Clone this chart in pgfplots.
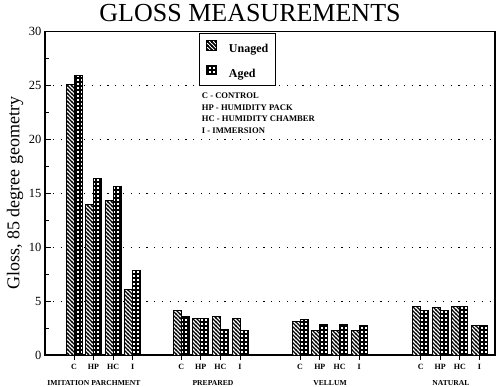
\documentclass[border=0pt]{standalone}
\usepackage{fontspec}
\setmainfont{Liberation Serif}
\usepackage{pgfplots}
\usepackage{pgfplotstable}
\pgfplotsset{compat=1.18}
\usetikzlibrary{patterns}

\pgfdeclarepatternformonly{unagedhatch}{\pgfqpoint{-1pt}{-1pt}}{\pgfqpoint{5pt}{5pt}}{\pgfqpoint{4pt}{4pt}}{%
  \pgfsetlinewidth{1.4pt}%
  \pgfpathmoveto{\pgfqpoint{-0.5pt}{4.5pt}}%
  \pgfpathlineto{\pgfqpoint{4.5pt}{-0.5pt}}%
  \pgfusepath{stroke}}
\pgfdeclarepatternformonly{agedcross}{\pgfqpoint{-1pt}{-1pt}}{\pgfqpoint{5pt}{5pt}}{\pgfqpoint{4pt}{4pt}}{%
  \pgfsetlinewidth{1.7pt}%
  \pgfpathmoveto{\pgfqpoint{-1pt}{0pt}}%
  \pgfpathlineto{\pgfqpoint{5pt}{0pt}}%
  \pgfpathmoveto{\pgfqpoint{0pt}{-1pt}}%
  \pgfpathlineto{\pgfqpoint{0pt}{5pt}}%
  \pgfusepath{stroke}}

% x positions (axis units), values
\pgfplotstableread{
x y
29 25.1
48.5 14.0
68.2 14.35
87.7 6.1
136.3 4.1
155.6 3.36
175.3 3.6
195 3.36
255 3.12
274.8 2.3
294.6 2.3
314.3 2.25
375.7 4.54
395.2 4.42
414.8 4.54
434.3 2.75
}\unaged
\pgfplotstableread{
x y
29 25.9
48.5 16.4
68.2 15.65
87.7 7.8
136.3 3.6
155.6 3.36
175.3 2.38
195 2.25
255 3.3
274.8 2.8
294.6 2.8
314.3 2.7
375.7 4.1
395.2 4.1
414.8 4.54
434.3 2.75
}\aged

\begin{document}
\begin{tikzpicture}
\path[use as bounding box] (0,0) rectangle (500pt,386pt);
\begin{axis}[
  at={(45pt,31pt)}, anchor=south west,
  scale only axis, width=450pt, height=323.5pt,
  xmin=0, xmax=450, ymin=0, ymax=30,
  clip=false,
  axis line style={line width=1.2pt},
  every tick/.style={black, line width=0.9pt},
  ytick={0,5,...,30},
  minor ytick={2.5,7.5,...,27.5},
  ytick pos=left, ytick align=inside,
  ytick style={/pgfplots/major tick length=6pt, /pgfplots/minor tick length=3.5pt},
  xtick pos=bottom, xtick align=outside,
  xtick style={/pgfplots/major tick length=4.5pt},
  xtick={29,48.5,68.2,87.7,136.3,155.6,175.3,195,255,274.8,294.6,314.3,375.7,395.2,414.8,434.3},
  xticklabels={C,HP,HC,I,C,HP,HC,I,C,HP,HC,I,C,HP,HC,I},
  x tick label style={font=\bfseries\fontsize{8}{8}\selectfont, yshift=-1pt},
  y tick label style={font=\fontsize{12.5}{12.5}\selectfont},
  /pgf/number format/assume math mode=true,
  ymajorgrids,
  major grid style={black, line width=0.9pt, dash pattern=on 1.2pt off 6.6pt},
  ylabel={Gloss, 85 degree geometry},
  ylabel style={at={(axis description cs:-0.0667,0.5)}, anchor=center, font=\fontsize{18}{18}\selectfont},
  legend style={at={(axis description cs:0.3416,0.995)}, anchor=north west,
    draw=black, line width=0.8pt, font=\bfseries\fontsize{12}{12}\selectfont,
    inner xsep=7pt, inner ysep=6.5pt, row sep=10.5pt, column sep=12pt, nodes={inner sep=0pt}},
  legend cell align=left,
]
\addplot[ybar, bar width=8, bar shift=-4, draw=black, line width=0.8pt, fill=white,
  postaction={pattern=unagedhatch},
  legend image code/.code={\draw[black, line width=0.8pt, fill=white, postaction={pattern=unagedhatch}] (0pt,-0.5pt) rectangle (10pt,9pt);}]
  table[x=x, y=y] {\unaged};
\addlegendentry{Unaged\hspace{5pt}}
\addplot[ybar, bar width=8, bar shift=4, draw=black, line width=0.8pt, fill=white,
  postaction={pattern=agedcross},
  legend image code/.code={\draw[black, line width=0.8pt, fill=white, postaction={pattern=agedcross}] (0pt,-0.5pt) rectangle (10pt,9pt);}]
  table[x=x, y=y] {\aged};
\addlegendentry{Aged}

\node[font=\fontsize{26}{26}\selectfont] at (axis description cs:0.4556,1.0578) {GLOSS MEASUREMENTS};

\node[font=\bfseries\fontsize{7.6}{7.6}\selectfont, yshift=-27.7pt] at (axis cs:49,0) {IMITATION PARCHMENT};
\node[font=\bfseries\fontsize{7.6}{7.6}\selectfont, yshift=-27.7pt] at (axis cs:168,0) {PREPARED};
\node[font=\bfseries\fontsize{7.6}{7.6}\selectfont, yshift=-27.7pt] at (axis cs:285,0) {VELLUM};
\node[font=\bfseries\fontsize{7.6}{7.6}\selectfont, yshift=-27.7pt] at (axis cs:406,0) {NATURAL};

\node[anchor=north west, align=left, inner sep=0pt, font=\bfseries\fontsize{8.6}{11.8}\selectfont]
  at (axis cs:156.7,24.35) {C - CONTROL\\HP - HUMIDITY PACK\\HC - HUMIDITY CHAMBER\\I - IMMERSION};
\end{axis}
\end{tikzpicture}
\end{document}
